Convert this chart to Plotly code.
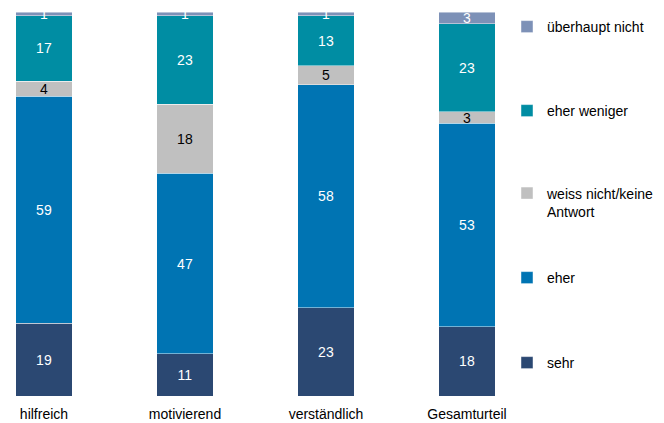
import plotly.graph_objects as go

categories = ["hilfreich", "motivierend", "verständlich", "Gesamturteil"]
sehr = [19, 11, 23, 18]
eher = [59, 47, 58, 53]
weiss_nicht = [4, 18, 5, 3]
eher_weniger = [17, 23, 13, 23]
ueberhaupt_nicht = [1, 1, 1, 3]

series = [
    ("sehr", sehr, "#2B4872", "white"),
    ("eher", eher, "#0074B3", "white"),
    ("weiss nicht/keine<br>Antwort", weiss_nicht, "#C0C0C0", "black"),
    ("eher weniger", eher_weniger, "#008DA3", "white"),
    ("überhaupt nicht", ueberhaupt_nicht, "#7D91B7", "white"),
]
# vertical centre (px from top of figure) of each legend entry
legend_centres = [363, 278, 202.5, 111, 27]

FONT = "Liberation Sans, Arial, sans-serif"
W, H = 664, 423

fig = go.Figure()
legend_layouts = {}
for i, (name, vals, color, tcolor) in enumerate(series):
    lname = "legend" if i == 0 else f"legend{i + 1}"
    fig.add_trace(go.Bar(
        x=list(range(len(categories))),
        y=vals,
        name=name,
        legend=lname,
        width=0.4,
        marker=dict(color=color, line=dict(color="rgba(255,255,255,0.6)", width=0.75)),
        text=[str(v) for v in vals],
        textposition="inside",
        insidetextanchor="middle",
        textangle=0,
        textfont=dict(family=FONT, size=14, color=tcolor),
        cliponaxis=False,
    ))
    legend_layouts[lname] = dict(
        xref="container", yref="container",
        x=507 / W, xanchor="left",
        y=1 - legend_centres[i] / H, yanchor="middle",
        valign="top",
        font=dict(family=FONT, size=14, color="#000000"),
        bgcolor="rgba(0,0,0,0)",
    )

fig.update_layout(
    barmode="stack",
    width=W,
    height=H,
    margin=dict(l=10, r=154, t=12, b=27, autoexpand=False),
    paper_bgcolor="white",
    plot_bgcolor="white",
    font=dict(family=FONT, size=14, color="#000000"),
    uniformtext=dict(minsize=14, mode="show"),
    xaxis=dict(
        tickvals=list(range(len(categories))),
        ticktext=categories,
        range=[-0.241, 3.305],
        showgrid=False, zeroline=False, showline=False,
        ticks="outside", ticklen=5, tickcolor="rgba(0,0,0,0)",
        tickfont=dict(family=FONT, size=14, color="#000000"),
        fixedrange=True,
    ),
    yaxis=dict(
        range=[0, 100], visible=False, fixedrange=True,
    ),
    showlegend=True,
    hovermode=False,
    **legend_layouts,
)

fig.write_html(
    "out.html",
    config={"displayModeBar": False, "staticPlot": False},
    post_script="document.body.style.margin='0';document.body.style.overflow='hidden';",
)
